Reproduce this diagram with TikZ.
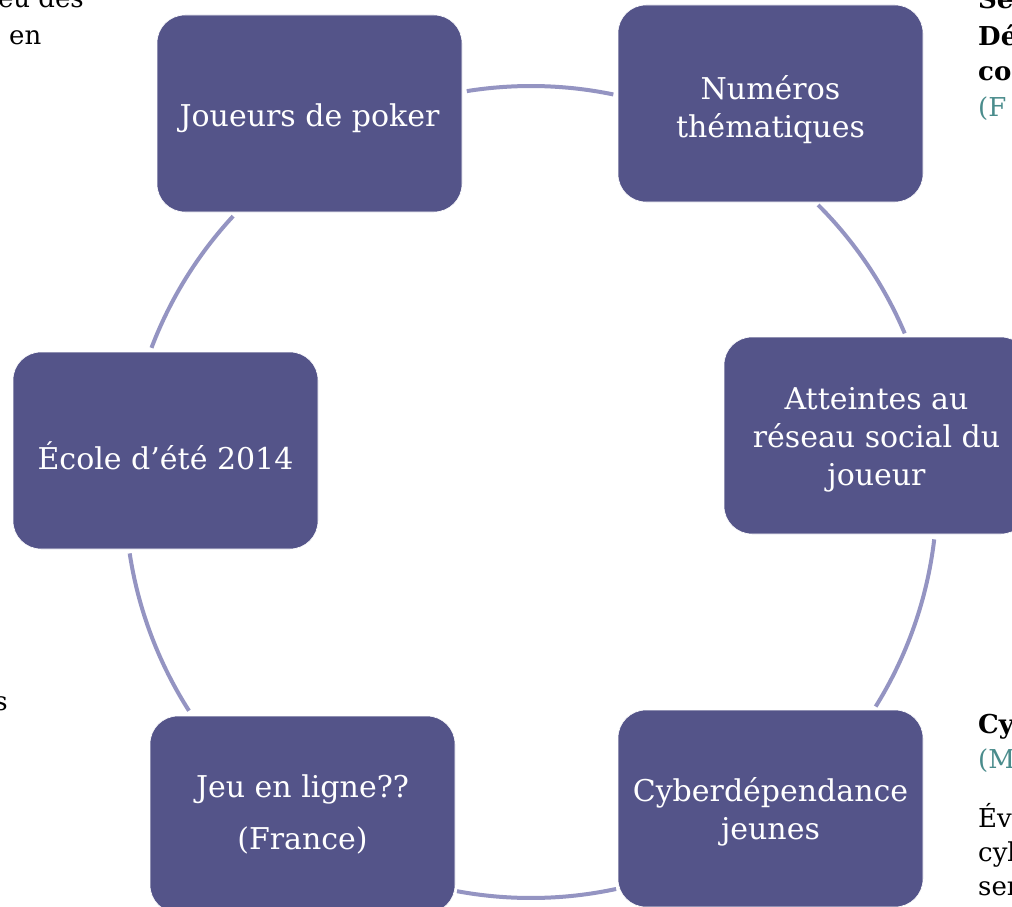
\documentclass[tikz,border=0pt]{standalone}
\usepackage{fontspec}
\setmainfont{DejaVu Serif}
\usetikzlibrary{calc}
\definecolor{boxfill}{HTML}{545489}
\definecolor{arccol}{HTML}{9494C2}
\definecolor{tealtxt}{HTML}{4A8C8C}
\tikzset{
  box/.style={draw=white, line width=0.6pt, fill=boxfill, rounded corners=28pt,
    minimum width=305pt, minimum height=197pt, inner sep=0pt},
  boxtext/.style={text=white, inner sep=0pt, align=center,
    font=\fontsize{30}{38}\selectfont},
  ring/.style={draw=arccol, line width=4pt},
  side/.style={anchor=base west, inner sep=0pt, font=\fontsize{26}{30}\selectfont, text=black},
}
\begin{document}
\begin{tikzpicture}[x=1pt,y=1pt]
\useasboundingbox (0,0) rectangle (1012,-907);
\clip (0,0) rectangle (1012,-907);
\fill[white] (0,0) rectangle (1012,-907);

% clipped background texts
\node[side, anchor=base east] (t1) at (84,-8) {eu des};
\node[side] (t2) at (9,-45) {en};
\node[side, font=\fontsize{26}{30}\selectfont\bfseries] (t3) at (978,-9) {Se};
\node[side, font=\fontsize{26}{30}\selectfont\bfseries] (t4) at (978,-46) {Dé};
\node[side, font=\fontsize{26}{30}\selectfont\bfseries] (t5) at (978,-81) {co};
\node[side, text=tealtxt] (t6) at (978,-116) {(F};
\node[side, anchor=base east] (t7) at (8,-710) {s};
\node[side, font=\fontsize{26}{30}\selectfont\bfseries] (t8) at (978,-733) {Cy};
\node[side, text=tealtxt] (t9) at (978,-768) {(M};
\node[side] (t10) at (978,-827) {Év};
\node[side] (t11) at (978,-861) {cyl};
\node[side] (t12) at (978,-895) {ser};

% ring arcs
\coordinate (c) at (531,-492);
\coordinate (s1) at ($(c)+(99.1:406)$);
\coordinate (s2) at ($(c)+(45:406)$);
\coordinate (s3) at ($(c)+(-6.7:406)$);
\coordinate (s4) at ($(c)+(-77.9:406)$);
\coordinate (s5) at ($(c)+(212.6:406)$);
\coordinate (s6) at ($(c)+(159.2:406)$);
\draw[ring] (s1) arc[start angle=99.1, end angle=78.3, radius=406];
\draw[ring] (s2) arc[start angle=45, end angle=23, radius=406];
\draw[ring] (s3) arc[start angle=-6.7, end angle=-31.9, radius=406];
\draw[ring] (s4) arc[start angle=-77.9, end angle=-100.5, radius=406];
\draw[ring] (s5) arc[start angle=212.6, end angle=188.7, radius=406];
\draw[ring] (s6) arc[start angle=159.2, end angle=137.2, radius=406];

% boxes
\node[box] (joueurs) at (309.5,-113.5) {};
\node[box] (numeros) at (770.5,-103.5) {};
\node[box] (atteintes) at (876.5,-435.5) {};
\node[box] (cyber) at (770.5,-808.5) {};
\node[box] (jeu) at (302.5,-814.5) {};
\node[box] (ecole) at (165.5,-450.5) {};

\node[boxtext] (joueurs-t) at ([yshift=-5pt]joueurs.center) {Joueurs de poker};
\node[boxtext] (numeros-t) at ([yshift=-6pt]numeros.center) {Numéros\\thématiques};
\node[boxtext] (atteintes-t) at ([yshift=-4pt]atteintes.center) {Atteintes au\\réseau social du\\joueur};
\node[boxtext] (cyber-t) at ([yshift=-3pt]cyber.center) {Cyberdépendance\\jeunes};
\node[boxtext] (jeu-t) at (jeu.center) {Jeu en ligne??\\[14pt](France)};
\node[boxtext] (ecole-t) at ([yshift=-5pt]ecole.center) {École d’été 2014};
\end{tikzpicture}
\end{document}
